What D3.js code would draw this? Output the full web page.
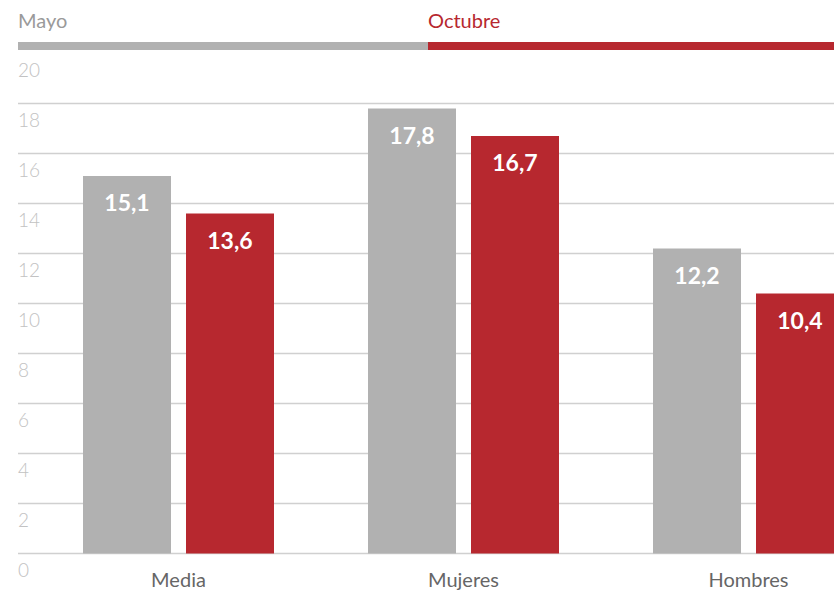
<!DOCTYPE html>
<html>
<head>
<meta charset="utf-8">
<script src="https://cdn.jsdelivr.net/npm/d3@7"></script>
<style>
  body { margin: 0; background: #fff; }
  svg { display: block; font-family: Lato, "Noto Sans", sans-serif; }
</style>
</head>
<body>
<div id="chart"></div>
<script>
// data
var categories = ["Media", "Mujeres", "Hombres"];
var seriesNames = ["Mayo", "Octubre"];
var mayo = [15.1, 17.8, 12.2];
var octubre = [13.6, 16.7, 10.4];
var yTicks = [0, 2, 4, 6, 8, 10, 12, 14, 16, 18, 20];

var colors = { "Mayo": "#b1b1b1", "Octubre": "#b7282f" };

var svgWidth = 834;
var svgHeight = 590;

var svg = d3.select("#chart")
  .append("svg")
  .attr("width", svgWidth)
  .attr("height", svgHeight);

var yScale = d3.scaleLinear()
  .domain([0, 20])
  .range([553.5, 53.5]);

// group centres
var x0 = d3.scalePoint()
  .domain(categories)
  .range([178.5, 748.5]);

var x1 = d3.scaleBand()
  .domain(seriesNames)
  .range([-95.5, 95.5])
  .paddingInner(0.1456);

// gridlines (no line at the top value)
svg.append("g")
  .selectAll("line")
  .data(yTicks.filter(d => d < 20))
  .enter()
  .append("line")
  .attr("x1", 18)
  .attr("x2", svgWidth)
  .attr("y1", d => yScale(d))
  .attr("y2", d => yScale(d))
  .attr("stroke", "#d0d0d0")
  .attr("stroke-width", 1.5);

// tick labels
svg.append("g")
  .selectAll("text")
  .data(yTicks)
  .enter()
  .append("text")
  .attr("x", 18)
  .attr("y", d => yScale(d) + 23)
  .attr("fill", "#c2c2c2")
  .attr("font-size", "19px")
  .attr("font-weight", 300)
  .text(d => d);

// legend
svg.append("rect")
  .attr("x", 18).attr("y", 42)
  .attr("width", 410).attr("height", 8)
  .attr("fill", colors["Mayo"]);
svg.append("rect")
  .attr("x", 428).attr("y", 42)
  .attr("width", svgWidth - 428).attr("height", 8)
  .attr("fill", colors["Octubre"]);
svg.append("text")
  .attr("x", 18).attr("y", 28)
  .attr("fill", "#9a9a9a")
  .attr("font-size", "20px")
  .text("Mayo");
svg.append("text")
  .attr("x", 428).attr("y", 28)
  .attr("fill", colors["Octubre"])
  .attr("font-size", "20px")
  .text("Octubre");

// bars
var rows = categories.map(function(c, i) {
  return { cat: c, values: [
    { name: "Mayo", value: mayo[i] },
    { name: "Octubre", value: octubre[i] }
  ]};
});

var groups = svg.selectAll(".group")
  .data(rows)
  .enter()
  .append("g")
  .attr("class", "group")
  .attr("transform", d => `translate(${x0(d.cat)},0)`);

groups.selectAll("rect")
  .data(d => d.values)
  .enter()
  .append("rect")
  .attr("x", d => x1(d.name))
  .attr("y", d => yScale(d.value))
  .attr("width", x1.bandwidth())
  .attr("height", d => yScale(0) - yScale(d.value))
  .attr("fill", d => colors[d.name]);

groups.selectAll(".val")
  .data(d => d.values)
  .enter()
  .append("text")
  .attr("class", "val")
  .attr("x", d => x1(d.name) + x1.bandwidth() / 2)
  .attr("y", d => yScale(d.value) + 35)
  .attr("text-anchor", "middle")
  .attr("fill", "#fff")
  .attr("font-size", "23px")
  .attr("font-weight", 700)
  .text(d => String(d.value.toFixed(1)).replace(".", ","));

// category labels
svg.append("g")
  .selectAll("text")
  .data(categories)
  .enter()
  .append("text")
  .attr("x", d => x0(d))
  .attr("y", 587)
  .attr("text-anchor", "middle")
  .attr("fill", "#666")
  .attr("font-size", "20px")
  .text(d => d);
</script>
</body>
</html>
